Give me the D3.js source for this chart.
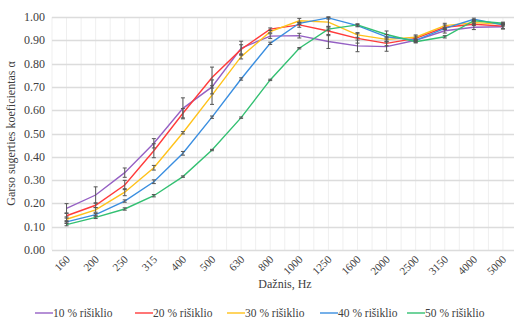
<!DOCTYPE html>
<html>
<head>
<meta charset="utf-8">
<script src="https://cdn.jsdelivr.net/npm/d3@7"></script>
<style>
  body { margin: 0; background: #fff; }
  text { font-family: 'Liberation Serif', 'DejaVu Serif', serif; }
</style>
</head>
<body>
<div id="chart"></div>
<script>
const freqs = ["160", "200", "250", "315", "400", "500", "630", "800", "1000", "1250", "1600", "2000", "2500", "3150", "4000", "5000"];
const seriesNames = ["10 % rišiklio", "20 % rišiklio", "30 % rišiklio", "40 % rišiklio", "50 % rišiklio"];
const colors = ["#9560c4", "#ff3b3b", "#ffc21a", "#3a8ee0", "#33c072"];

const s10 = [0.179, 0.236, 0.332, 0.458, 0.608, 0.70, 0.866, 0.918, 0.92, 0.895, 0.876, 0.873, 0.90, 0.941, 0.956, 0.958];
const s20 = [0.147, 0.192, 0.279, 0.426, 0.587, 0.74, 0.861, 0.948, 0.966, 0.94, 0.908, 0.887, 0.908, 0.956, 0.969, 0.961];
const s30 = [0.132, 0.172, 0.248, 0.353, 0.503, 0.665, 0.83, 0.937, 0.984, 0.978, 0.923, 0.904, 0.913, 0.963, 0.976, 0.97];
const s40 = [0.121, 0.152, 0.210, 0.293, 0.415, 0.57, 0.734, 0.887, 0.973, 0.996, 0.963, 0.915, 0.90, 0.951, 0.99, 0.966];
const s50 = [0.109, 0.140, 0.176, 0.233, 0.315, 0.429, 0.568, 0.73, 0.866, 0.948, 0.966, 0.925, 0.894, 0.915, 0.984, 0.973];

const e10 = [0.02, 0.035, 0.02, 0.02, 0.045, 0.03, 0.03, 0.01, 0.01, 0.03, 0.025, 0.02, 0.01, 0.01, 0.01, 0.01];
const e20 = [0.01, 0.01, 0.02, 0.03, 0.02, 0.045, 0.02, 0.005, 0.01, 0.02, 0.02, 0.01, 0.01, 0.01, 0.005, 0.01];
const e30 = [0.01, 0.01, 0.015, 0.01, 0.005, 0.04, 0.01, 0.005, 0.01, 0.02, 0.01, 0.01, 0.01, 0.01, 0.005, 0.005];
const e40 = [0.005, 0.005, 0.005, 0.008, 0.008, 0.005, 0.005, 0.005, 0.005, 0.005, 0.005, 0.01, 0.005, 0.005, 0.005, 0.005];
const e50 = [0.005, 0.005, 0.005, 0.005, 0.003, 0.003, 0.003, 0.003, 0.003, 0.005, 0.005, 0.015, 0.005, 0.005, 0.005, 0.005];

const yTicks = [0, 0.1, 0.2, 0.3, 0.4, 0.5, 0.6, 0.7, 0.8, 0.9, 1.0];

const values = [s10, s20, s30, s40, s50];
const errors = [e10, e20, e30, e40, e50];

const width = 514, height = 322;
const margin = { top: 17, right: -3.5, bottom: 72, left: 52 };
const serif = "'Liberation Serif', 'DejaVu Serif', serif";

const svg = d3.select("#chart").append("svg")
  .attr("width", width)
  .attr("height", height)
  .attr("font-family", serif);

const x = d3.scaleBand()
  .domain(freqs)
  .range([margin.left, width - margin.right]);

const y = d3.scaleLinear()
  .domain([0, 1])
  .range([height - margin.bottom, margin.top]);

const cx = d => x(d) + x.bandwidth() / 2;

// vertical gridlines at band edges and centres
const grid = svg.append("g");
freqs.forEach(f => {
  [x(f), cx(f)].forEach(px => {
    grid.append("line")
      .attr("x1", px).attr("x2", px)
      .attr("y1", y(1)).attr("y2", y(0))
      .attr("stroke", "#efefef")
      .attr("stroke-width", 1);
  });
});

grid.selectAll("line.h")
  .data(yTicks)
  .join("line")
  .attr("class", "h")
  .attr("x1", margin.left)
  .attr("x2", width)
  .attr("y1", d => Math.round(y(d)) + 0.5)
  .attr("y2", d => Math.round(y(d)) + 0.5)
  .attr("stroke", "#dcdcdc")
  .attr("stroke-width", 1.3);

// y axis labels
svg.append("g")
  .selectAll("text")
  .data(yTicks)
  .join("text")
  .attr("x", 45)
  .attr("y", d => y(d) + 4)
  .attr("text-anchor", "end")
  .attr("font-family", serif)
  .attr("font-size", "12px")
  .attr("fill", "#404040")
  .text(d => d.toFixed(2));

// x axis labels
svg.append("g")
  .selectAll("text")
  .data(freqs)
  .join("text")
  .attr("transform", d => `translate(${cx(d) + 4},${y(0) + 10}) rotate(-45)`)
  .attr("text-anchor", "end")
  .attr("font-family", serif)
  .attr("font-size", "11px")
  .attr("fill", "#404040")
  .text(d => d);

// axis titles
svg.append("text")
  .attr("x", 285)
  .attr("y", 288)
  .attr("text-anchor", "middle")
  .attr("font-family", serif)
  .attr("font-size", "12px")
  .attr("fill", "#404040")
  .text("Dažnis, Hz");

svg.append("text")
  .attr("transform", `translate(15,${(y(0) + y(1)) / 2}) rotate(-90)`)
  .attr("text-anchor", "middle")
  .attr("font-family", serif)
  .attr("font-size", "12px")
  .attr("fill", "#404040")
  .text("Garso sugerties koeficientas α");

// lines
const line = d3.line()
  .x((d, i) => cx(freqs[i]))
  .y(d => y(d));

const plot = svg.append("g");
values.forEach((vals, k) => {
  plot.append("path")
    .datum(vals)
    .attr("fill", "none")
    .attr("stroke", colors[k])
    .attr("stroke-width", 1.4)
    .attr("d", line);
});

// error bars
const eb = svg.append("g").attr("stroke", "#555").attr("stroke-width", 1);
values.forEach((vals, k) => {
  vals.forEach((v, i) => {
    const px = cx(freqs[i]);
    const e = errors[k][i];
    eb.append("line").attr("x1", px).attr("x2", px).attr("y1", y(v - e)).attr("y2", y(v + e));
    eb.append("line").attr("x1", px - 2).attr("x2", px + 2).attr("y1", y(v - e)).attr("y2", y(v - e));
    eb.append("line").attr("x1", px - 2).attr("x2", px + 2).attr("y1", y(v + e)).attr("y2", y(v + e));
  });
});

// legend
const legendX = [35, 135, 227, 320, 407];
const legend = svg.append("g");
seriesNames.forEach((name, k) => {
  const lx = legendX[k];
  legend.append("line")
    .attr("x1", lx).attr("x2", lx + 18)
    .attr("y1", 313).attr("y2", 313)
    .attr("stroke", colors[k])
    .attr("stroke-width", 1.4);
  legend.append("text")
    .attr("x", lx + 18)
    .attr("y", 317)
    .attr("font-family", serif)
    .attr("font-size", "11.5px")
    .attr("fill", "#404040")
    .text(name);
});
</script>
</body>
</html>
